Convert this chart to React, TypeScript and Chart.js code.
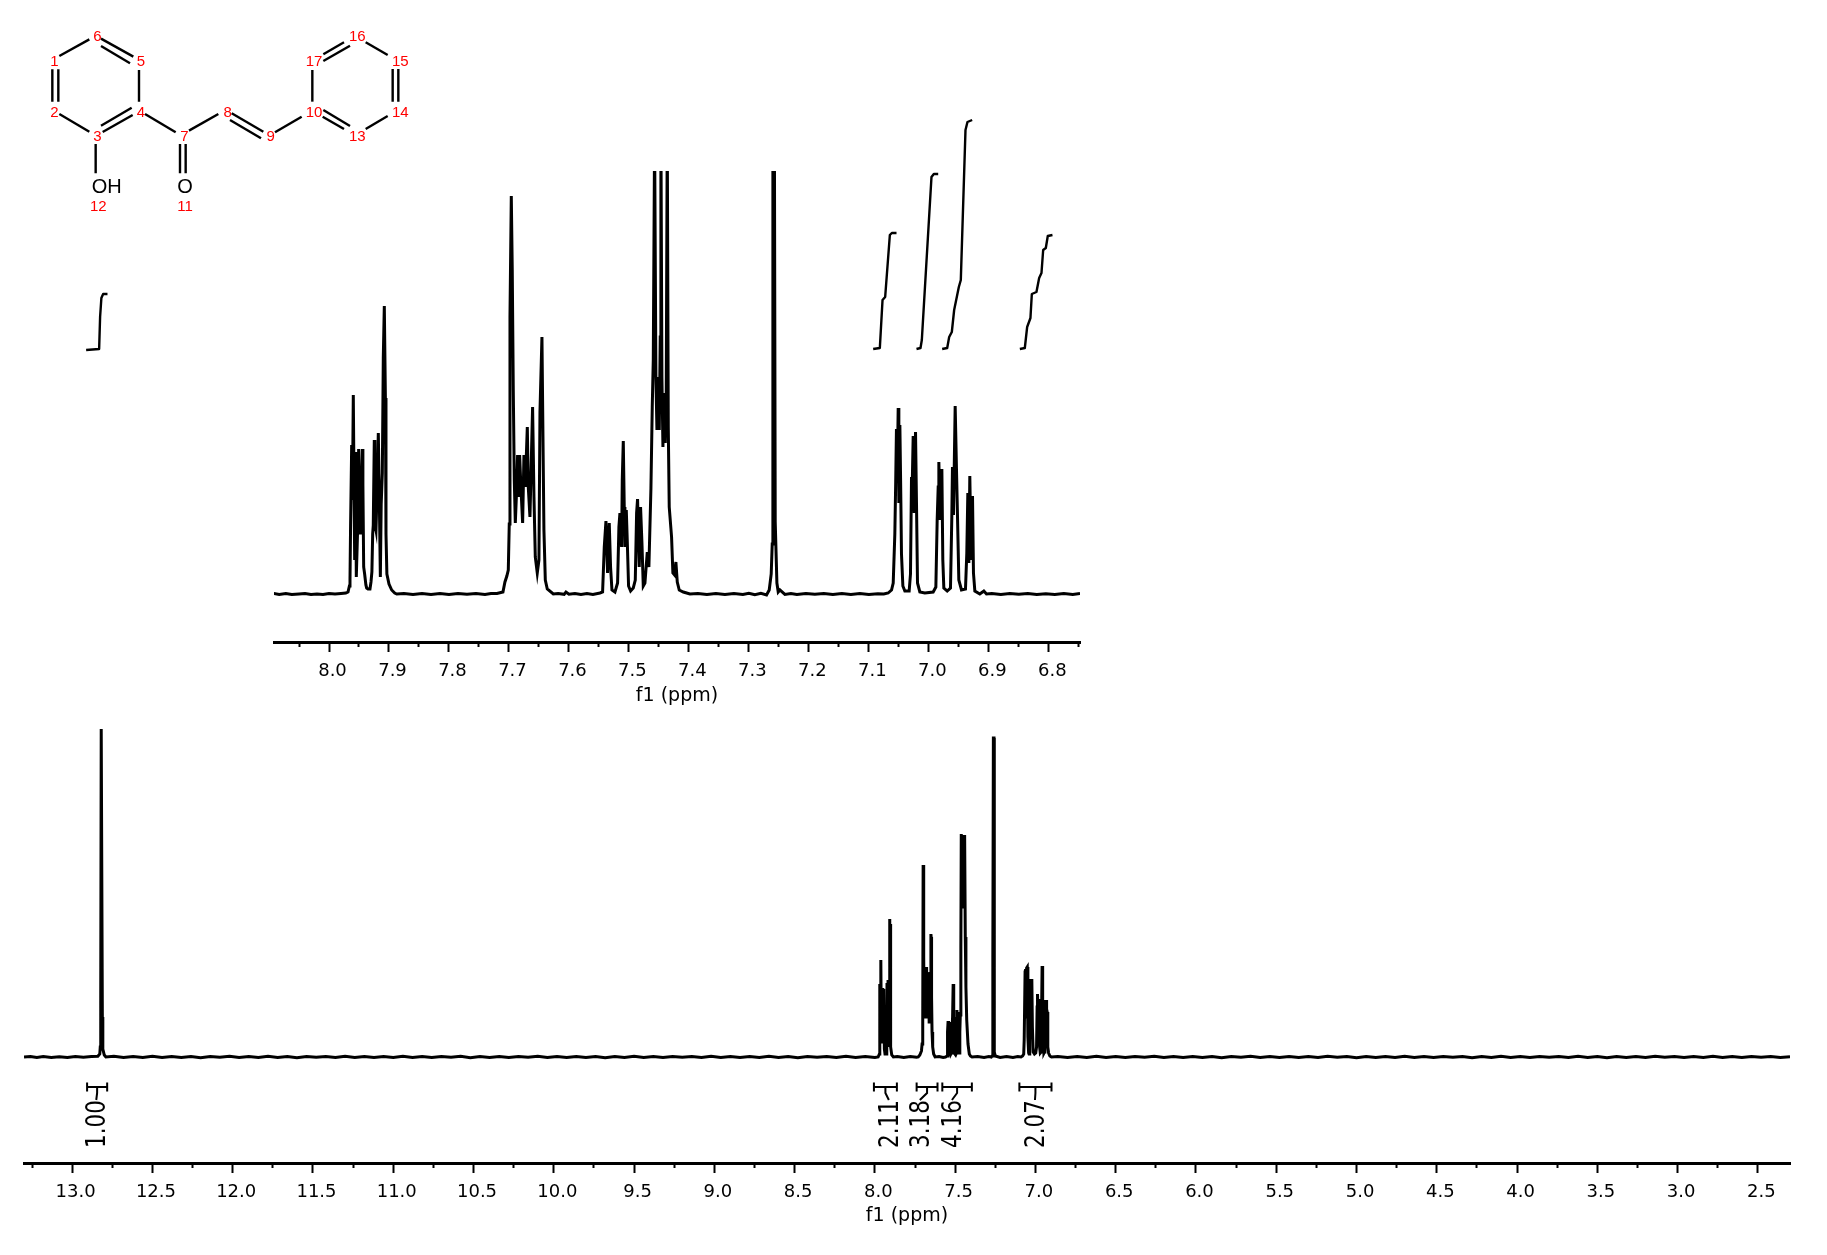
import React, { useEffect, useRef } from "react";
import { Chart, registerables } from "chart.js";

Chart.register(...registerables);

type P = [number, number];
const AXIS_FONT = "'DejaVu Sans', sans-serif";

// ---------- full spectrum: ppm / relative intensity ----------
const mainTicks = [13, 12.5, 12, 11.5, 11, 10.5, 10, 9.5, 9, 8.5, 8, 7.5, 7, 6.5, 6, 5.5, 5, 4.5, 4, 3.5, 3, 2.5];
const mainMinorTicks = [13.25, 12.75, 12.25, 11.75, 11.25, 10.75, 10.25, 9.75, 9.25, 8.75, 8.25, 7.75, 7.25, 6.75, 6.25, 5.75, 5.25, 4.75, 4.25, 3.75, 3.25, 2.75];

const mainBaselineLeft: P[] = [[13.3, 0], [13.26, 0.6], [13.22, -0.4], [13.18, 0.5], [13.13, -0.5], [13.08, 0.3], [13.03, -0.6], [12.98, 0.5], [12.93, -0.3], [12.88, 0.4]];
const mainOH: P[] = [[12.84, 0.8], [12.828, 3], [12.825, 10], [12.822, 60], [12.819, 328], [12.815, 328], [12.812, 40], [12.809, 8], [12.8, 2], [12.79, 0]];
const mainBaselineMid: P[] = [[12.74, 0.7], [12.68, -0.6], [12.62, 0.5], [12.56, -0.5], [12.5, 0.8], [12.44, -0.4], [12.38, 0.6], [12.32, -0.6], [12.26, 0.4], [12.2, -0.7], [12.14, 0.6], [12.08, -0.3], [12.02, 0.7], [11.96, -0.6], [11.9, 0.4], [11.84, -0.5], [11.78, 0.7], [11.72, -0.4], [11.66, 0.5], [11.6, -0.7], [11.54, 0.6], [11.48, -0.3], [11.42, 0.5], [11.36, -0.6], [11.3, 0.7], [11.24, -0.4], [11.18, 0.6], [11.12, -0.6], [11.06, 0.4], [11, -0.5], [10.94, 0.7], [10.88, -0.5], [10.82, 0.4], [10.76, -0.6], [10.7, 0.6], [10.64, -0.3], [10.58, 0.7], [10.52, -0.7], [10.46, 0.4], [10.4, -0.4], [10.34, 0.6], [10.28, -0.6], [10.22, 0.5], [10.16, -0.3], [10.1, 0.7], [10.04, -0.6], [9.98, 0.4], [9.92, -0.5], [9.86, 0.6], [9.8, -0.4], [9.74, 0.5], [9.68, -0.7], [9.62, 0.6], [9.56, -0.4], [9.5, 0.7], [9.44, -0.5], [9.38, 0.4], [9.32, -0.6], [9.26, 0.6], [9.2, -0.3], [9.14, 0.5], [9.08, -0.6], [9.02, 0.7], [8.96, -0.4], [8.9, 0.5], [8.84, -0.6], [8.78, 0.4], [8.72, -0.5], [8.66, 0.7], [8.6, -0.4], [8.54, 0.5], [8.48, -0.7], [8.42, 0.6], [8.36, -0.3], [8.3, 0.5], [8.24, -0.6], [8.18, 0.7], [8.12, -0.4], [8.06, 0.4], [8, -0.5]];
const mainGroupA: P[] = [[7.98, 0], [7.972, 3], [7.9695, 73], [7.966, 30], [7.963, 97], [7.96, 25], [7.9575, 69], [7.955, 15], [7.951, 69], [7.9485, 22], [7.945, 68], [7.941, 8], [7.937, 3], [7.93, 3], [7.926, 20], [7.9245, 74], [7.9215, 25], [7.918, 77], [7.915, 10], [7.911, 60], [7.9085, 138], [7.9065, 70], [7.9055, 133], [7.902, 10], [7.895, 2], [7.885, 0]];
const mainBaselineB: P[] = [[7.86, 0.5], [7.82, -0.4], [7.78, 0.5], [7.74, -0.3]];
const mainGroupB: P[] = [[7.73, 0], [7.72, 2], [7.71, 6], [7.706, 13], [7.702, 33], [7.6995, 192], [7.696, 100], [7.693, 40], [7.69, 82], [7.687, 40], [7.684, 85], [7.681, 40], [7.678, 90], [7.675, 42], [7.672, 84], [7.668, 45], [7.664, 70], [7.662, 35], [7.66, 85], [7.657, 35], [7.654, 60], [7.651, 123], [7.6495, 120], [7.647, 60], [7.644, 25], [7.64, 10], [7.634, 3], [7.625, 0]];
const mainGroupC: P[] = [[7.6, 0.5], [7.575, -0.4], [7.56, 0], [7.55, 1], [7.5475, 25], [7.544, 36], [7.541, 5], [7.538, 35], [7.5345, 4], [7.53, 2], [7.524, 4], [7.52, 25], [7.516, 40], [7.5125, 73], [7.509, 22], [7.505, 40], [7.5015, 3], [7.497, 2], [7.492, 4], [7.489, 47], [7.486, 20], [7.482, 45], [7.478, 5], [7.4745, 4], [7.471, 25], [7.468, 42], [7.4645, 110], [7.462, 223], [7.456, 150], [7.452, 222], [7.447, 150], [7.441, 222], [7.437, 120], [7.433, 70], [7.428, 37], [7.42, 13], [7.412, 3], [7.405, 1], [7.395, 0]];
const mainSolvent: P[] = [[7.36, 0.5], [7.32, -0.4], [7.29, 0.5], [7.275, 0], [7.27, 1], [7.266, 4], [7.2655, 97], [7.2645, 100], [7.262, 319], [7.258, 319], [7.257, 100], [7.2555, 5], [7.25, 1], [7.22, -0.5], [7.18, 0.5], [7.14, -0.4], [7.11, 0.4]];
const mainGroupD: P[] = [[7.09, 0], [7.08, 1], [7.073, 3], [7.07, 17], [7.0645, 85], [7.0615, 88], [7.0585, 40], [7.055, 89], [7.051, 90], [7.047, 20], [7.0425, 4], [7.04, 3], [7.037, 20], [7.034, 78], [7.0285, 40], [7.0225, 78], [7.019, 30], [7.014, 5], [7.006, 3], [6.998, 4], [6.993, 10], [6.9895, 50], [6.987, 63], [6.983, 30], [6.978, 58], [6.974, 10], [6.97, 4], [6.965, 5], [6.962, 40], [6.9585, 91], [6.955, 50], [6.951, 10], [6.947, 4], [6.944, 5], [6.941, 57], [6.9375, 25], [6.933, 57], [6.9305, 48], [6.927, 45], [6.923, 10], [6.918, 4], [6.91, 1], [6.9, 0]];
const mainBaselineRight: P[] = [[6.86, 0.6], [6.8, -0.5], [6.74, 0.4], [6.68, -0.6], [6.62, 0.7], [6.56, -0.4], [6.5, 0.5], [6.44, -0.6], [6.38, 0.6], [6.32, -0.3], [6.26, 0.7], [6.2, -0.6], [6.14, 0.4], [6.08, -0.5], [6.02, 0.6], [5.96, -0.4], [5.9, 0.5], [5.84, -0.7], [5.78, 0.6], [5.72, -0.3], [5.66, 0.7], [5.6, -0.5], [5.54, 0.4], [5.48, -0.6], [5.42, 0.6], [5.36, -0.4], [5.3, 0.5], [5.24, -0.6], [5.18, 0.7], [5.12, -0.3], [5.06, 0.5], [5, -0.7], [4.94, 0.6], [4.88, -0.4], [4.82, 0.4], [4.76, -0.5], [4.7, 0.7], [4.64, -0.4], [4.58, 0.6], [4.52, -0.6], [4.46, 0.4], [4.4, -0.3], [4.34, 0.5], [4.28, -0.7], [4.22, 0.6], [4.16, -0.4], [4.1, 0.7], [4.04, -0.5], [3.98, 0.4], [3.92, -0.6], [3.86, 0.6], [3.8, -0.3], [3.74, 0.5], [3.68, -0.6], [3.62, 0.7], [3.56, -0.4], [3.5, 0.5], [3.44, -0.7], [3.38, 0.6], [3.32, -0.4], [3.26, 0.4], [3.2, -0.5], [3.14, 0.7], [3.08, -0.3], [3.02, 0.5], [2.96, -0.6], [2.9, 0.6], [2.84, -0.4], [2.78, 0.7], [2.72, -0.5], [2.66, 0.4], [2.6, -0.6], [2.54, 0.6], [2.48, -0.3], [2.42, 0.5], [2.36, -0.5], [2.3, 0.3]];
const mainIntegralOH: P[] = [[12.913, 707], [12.832, 708], [12.826, 740], [12.818, 759], [12.807, 763], [12.78, 763]];

const regionLabels = ["1.00", "2.11", "3.18", "4.16", "2.07"];
const regionFrom = [12.907, 8.006, 7.74, 7.58, 7.1];
const regionTo = [12.782, 7.863, 7.61, 7.396, 6.9];
const regionLabelPpm = [12.85, 7.913, 7.72, 7.52, 7.003];

// ---------- expanded aromatic region ----------
const insetTicks = [8, 7.9, 7.8, 7.7, 7.6, 7.5, 7.4, 7.3, 7.2, 7.1, 7, 6.9, 6.8];
const insetMinorTicks = [8.05, 7.95, 7.85, 7.75, 7.65, 7.55, 7.45, 7.35, 7.25, 7.15, 7.05, 6.95, 6.85, 6.75];

const insetBaseA: P[] = [[8.092, 0.5], [8.083, -0.5], [8.072, 0.5], [8.062, -0.6], [8.05, 0], [8.04, 0.6], [8.03, -0.5], [8.02, 0], [8.01, -0.6], [8, 0.5], [7.99, 0], [7.98, 0.5], [7.972, 1]];
const insetGroupA: P[] = [[7.9683, 2], [7.966, 8], [7.965, 14], [7.964, 70], [7.9622, 149], [7.961, 94], [7.9595, 199], [7.958, 90], [7.9572, 34], [7.9556, 142], [7.9545, 17], [7.9525, 60], [7.9506, 145], [7.9495, 65], [7.9483, 61], [7.9467, 100], [7.9445, 145], [7.9435, 110], [7.9422, 27], [7.9406, 20], [7.9385, 9], [7.9372, 6], [7.935, 5], [7.9317, 5], [7.93, 12], [7.9285, 22], [7.9272, 60], [7.9262, 69], [7.9245, 154], [7.9235, 70], [7.9217, 64], [7.9195, 110], [7.9178, 161], [7.916, 90], [7.9144, 17], [7.913, 90], [7.9111, 121], [7.9095, 236], [7.9078, 288], [7.906, 196], [7.905, 60], [7.9035, 20], [7.9, 10], [7.8955, 4], [7.8905, 1], [7.887, 0]];
const insetBaseB: P[] = [[7.875, 0.5], [7.86, -0.4], [7.845, 0.5], [7.83, -0.6], [7.815, 0.4], [7.8, -0.5], [7.785, 0.6], [7.77, -0.3], [7.755, 0.4], [7.74, -0.5], [7.73, 0.5]];
const insetGroupB: P[] = [[7.72, 0.5], [7.71, 2], [7.7067, 12], [7.7035, 18], [7.7011, 24], [7.6995, 70], [7.6983, 277], [7.6961, 398], [7.6945, 324], [7.6928, 204], [7.6911, 114], [7.6894, 71], [7.6872, 104], [7.6856, 139], [7.684, 97], [7.6822, 139], [7.68, 106], [7.6772, 71], [7.675, 139], [7.6728, 107], [7.6694, 167], [7.6678, 107], [7.665, 77], [7.6606, 187], [7.6583, 97], [7.6561, 37], [7.6528, 21], [7.65, 34], [7.6483, 182], [7.645, 257], [7.6433, 157], [7.6417, 64], [7.6394, 14], [7.6361, 5], [7.6261, 0]];
const insetBaseC: P[] = [[7.618, 0.5], [7.608, -0.3], [7.605, 2], [7.6, -0.3], [7.59, 0.5], [7.58, -0.5], [7.57, 0.4], [7.56, -0.4]];
const insetGroupC: P[] = [[7.5483, 1], [7.5439, 2], [7.5411, 47], [7.5383, 73], [7.5356, 21], [7.5328, 71], [7.5306, 27], [7.5283, 4], [7.5233, 2], [7.5189, 11], [7.5167, 67], [7.515, 81], [7.5122, 47], [7.5111, 114], [7.5094, 153], [7.5078, 87], [7.5067, 47], [7.5044, 84], [7.5028, 54], [7.5006, 8], [7.4972, 3], [7.4928, 6], [7.4894, 14], [7.4872, 81], [7.4856, 95], [7.4828, 27], [7.4806, 87], [7.4783, 51], [7.4761, 8], [7.4733, 11], [7.4694, 42], [7.4667, 27], [7.4633, 106], [7.4611, 187], [7.4594, 234], [7.4572, 460], [7.455, 217], [7.4533, 164], [7.4511, 217], [7.4494, 164], [7.4478, 257], [7.4467, 470], [7.445, 217], [7.4433, 147], [7.4417, 201], [7.4394, 151], [7.4378, 201], [7.4361, 465], [7.4344, 167], [7.4328, 87], [7.4289, 57], [7.4267, 21], [7.4239, 19], [7.4217, 32], [7.4194, 12], [7.4161, 4], [7.4094, 2], [7.3983, 0]];
const insetBaseD: P[] = [[7.385, 0.5], [7.37, -0.6], [7.355, 0.4], [7.34, -0.4], [7.325, 0.5], [7.31, -0.5], [7.3, 0.8], [7.29, -0.6], [7.28, 0.6], [7.2706, -1]];
const insetSolvent: P[] = [[7.2661, 4], [7.2628, 20], [7.2611, 50], [7.26, 470], [7.2575, 470], [7.2561, 72], [7.255, 72], [7.2533, 11], [7.2511, 2], [7.2483, 4]];
const insetBaseE: P[] = [[7.24, -0.4], [7.23, 0.6], [7.22, -0.5], [7.205, 0.5], [7.19, -0.3], [7.175, 0.5], [7.16, -0.5], [7.145, 0.4], [7.13, -0.4], [7.115, 0.5], [7.1, -0.5], [7.085, 0.3], [7.075, 0]];
const insetGroupD: P[] = [[7.0678, 1], [7.0622, 4], [7.0594, 11], [7.0567, 60], [7.0553, 110], [7.054, 165], [7.0525, 125], [7.0511, 186], [7.05, 91], [7.0483, 169], [7.047, 110], [7.0456, 40], [7.0433, 8], [7.04, 3], [7.035, 3], [7.0328, 3], [7.0306, 20], [7.0289, 117], [7.0278, 105], [7.0261, 158], [7.0244, 81], [7.0222, 162], [7.0206, 91], [7.0189, 11], [7.015, 2], [7.0067, 1], [6.9928, 2], [6.9883, 7], [6.9861, 74], [6.9844, 107], [6.9833, 132], [6.9811, 74], [6.9783, 125], [6.9767, 34], [6.975, 6], [6.9694, 3], [6.9639, 6], [6.9617, 77], [6.9606, 127], [6.9589, 79], [6.9561, 188], [6.9539, 124], [6.9522, 77], [6.95, 14], [6.9456, 4], [6.9389, 5], [6.9367, 41], [6.935, 101], [6.9333, 31], [6.9317, 118], [6.9294, 34], [6.9272, 98], [6.9256, 21], [6.9233, 3], [6.915, 0], [6.9083, 3], [6.9039, 0]];
const insetBaseF: P[] = [[6.895, 0.5], [6.88, -0.5], [6.865, 0.4], [6.85, -0.3], [6.835, 0.5], [6.82, -0.6], [6.805, 0.3], [6.79, -0.4], [6.775, 0.5], [6.76, -0.5], [6.748, 0.4]];

const integralA: P[] = [[7.0928, 245], [7.0817, 246], [7.0772, 294], [7.0728, 297], [7.065, 359], [7.0617, 361], [7.0539, 361]];
const integralB: P[] = [[7.0206, 245], [7.0139, 246], [7.0117, 254], [6.9956, 417], [6.9917, 420], [6.9844, 420]];
const integralC: P[] = [[6.9778, 245], [6.9694, 246], [6.9661, 257], [6.9617, 262], [6.9578, 284], [6.95, 307], [6.9467, 314], [6.9389, 464], [6.9356, 472], [6.9278, 474]];
const integralD: P[] = [[6.8483, 245], [6.84, 246], [6.8361, 267], [6.8306, 276], [6.8283, 300], [6.8206, 302], [6.8161, 316], [6.8122, 321], [6.8094, 344], [6.805, 346], [6.8017, 358], [6.7939, 359]];

// ---------- structure drawing ----------
const bonds: [number, number, number, number][] = [
  [178, 168, 268, 118], [303, 116, 400, 170], [303, 138, 390, 190], [417, 210, 417, 305],
  [395, 323, 303, 377], [398, 345, 308, 396], [178, 342, 268, 395], [157, 208, 157, 305], [175, 208, 175, 305],
  [287, 432, 287, 520], [435, 342, 527, 397], [540, 432, 540, 520], [557, 432, 557, 520], [567, 392, 655, 342],
  [695, 340, 790, 395], [690, 360, 783, 415], [825, 397, 905, 350], [937, 305, 937, 210], [970, 163, 1032, 127],
  [970, 183, 1050, 137], [1097, 127, 1163, 165], [1178, 207, 1178, 305], [1195, 207, 1195, 305],
  [1163, 348, 1097, 387], [1050, 378, 970, 330], [1032, 387, 968, 350],
];
const atomNumbers = ["1", "2", "3", "4", "5", "6", "7", "8", "9", "10", "11", "12", "13", "14", "15", "16", "17"];
const atomX = [163, 163, 292, 423, 423, 292, 553, 683, 812, 942, 555, 295, 1072, 1201, 1201, 1072, 942];
const atomY = [187, 338, 411, 338, 187, 111, 411, 338, 411, 338, 620, 620, 411, 338, 187, 111, 187];
const heteroLabels = ["OH", "O"];
const heteroX = [320, 555];
const heteroY = [563, 563];

const toPts = (list: P[]) => list.map(([x, y]) => ({ x, y }));

const axis = (
  min: number,
  max: number,
  labels: number[],
  height: number,
  titlePad: number,
) => ({
  type: "linear",
  reverse: true,
  min,
  max,
  position: "bottom",
  afterBuildTicks: (s: any) => {
    s.ticks = labels.map((value) => ({ value }));
  },
  afterFit: (s: any) => {
    s.height = height;
  },
  ticks: {
    autoSkip: false,
    maxRotation: 0,
    minRotation: 0,
    padding: 9,
    labelOffset: 3.5,
    color: "#000",
    font: { family: AXIS_FONT, size: 18 },
    callback: (v: any) => Number(v).toFixed(1),
  },
  grid: { drawOnChartArea: false, drawTicks: true, tickLength: 10, tickWidth: 2, tickColor: "#000" },
  border: { display: true, color: "#000", width: 3 },
  title: {
    display: true,
    text: "f1 (ppm)",
    color: "#000",
    font: { family: AXIS_FONT, size: 19 },
    padding: { top: 0, bottom: titlePad },
  },
});

const minorAxis = (min: number, max: number, ticks: number[], yValue: number) => ({
  type: "linear",
  axis: "x",
  reverse: true,
  min,
  max,
  position: { y: yValue },
  afterBuildTicks: (s: any) => {
    s.ticks = ticks.map((value) => ({ value }));
  },
  ticks: { display: false, autoSkip: false },
  grid: { drawOnChartArea: false, drawTicks: true, tickLength: 5, tickWidth: 2, tickColor: "#000" },
  border: { display: false },
});

const spectrumSet = (data: P[], width = 3) => ({
  data: toPts(data),
  showLine: true,
  borderColor: "#000",
  backgroundColor: "#000",
  borderWidth: width,
  pointRadius: 0,
  tension: 0,
  borderJoinStyle: "miter",
});

const integralSet = (data: P[]) => ({ ...spectrumSet(data, 2.4), clip: false, borderJoinStyle: "round" });

const regionPlugin = {
  id: "regions",
  afterDatasetsDraw(chart: any) {
    const { ctx, scales } = chart;
    const sx = scales.x;
    const sy = scales.y;
    const barY = sy.getPixelForValue(-30);
    ctx.save();
    ctx.strokeStyle = "#000";
    ctx.fillStyle = "#000";
    ctx.lineWidth = 2;
    regionLabels.forEach((label, i) => {
      const a = sx.getPixelForValue(regionFrom[i]);
      const b = sx.getPixelForValue(regionTo[i]);
      const c = (a + b) / 2;
      const l = sx.getPixelForValue(regionLabelPpm[i]);
      ctx.beginPath();
      ctx.moveTo(a, barY - 4.5);
      ctx.lineTo(a, barY + 4.5);
      ctx.moveTo(b, barY - 4.5);
      ctx.lineTo(b, barY + 4.5);
      ctx.moveTo(a, barY);
      ctx.lineTo(b, barY);
      ctx.moveTo(c, barY);
      ctx.lineTo(c, barY + 6);
      ctx.lineTo(l, barY + 13);
      ctx.stroke();
      ctx.save();
      ctx.translate(l, sy.getPixelForValue(-67));
      ctx.rotate(-Math.PI / 2);
      ctx.scale(1, 1.25);
      ctx.font = `21.5px ${AXIS_FONT}`;
      ctx.textAlign = "center";
      ctx.textBaseline = "middle";
      ctx.fillText(label, 0, 1.5);
      ctx.restore();
    });
    ctx.restore();
  },
};

const atomLabelPlugin = {
  id: "atomLabels",
  afterDatasetsDraw(chart: any) {
    const { ctx, scales } = chart;
    ctx.save();
    ctx.textAlign = "center";
    ctx.textBaseline = "middle";
    ctx.font = "15px 'Liberation Sans', sans-serif";
    ctx.fillStyle = "#ff0000";
    atomNumbers.forEach((n, i) => {
      ctx.fillText(n, scales.x.getPixelForValue(atomX[i]), scales.y.getPixelForValue(atomY[i]));
    });
    ctx.font = "20px 'Liberation Sans', sans-serif";
    ctx.fillStyle = "#000";
    heteroLabels.forEach((n, i) => {
      ctx.fillText(n, scales.x.getPixelForValue(heteroX[i]), scales.y.getPixelForValue(heteroY[i]));
    });
    ctx.restore();
  },
};

const quiet = { legend: { display: false }, title: { display: false }, tooltip: { enabled: false } };

const hiddenY = (min: number, max: number) => ({ type: "linear", display: false, min, max });

export default function App() {
  const mainRef = useRef<HTMLCanvasElement>(null);
  const insetRef = useRef<HTMLCanvasElement>(null);
  const molRef = useRef<HTMLCanvasElement>(null);

  useEffect(() => {
    document.body.style.margin = "0";
    const main = new Chart(mainRef.current as any, {
      type: "scatter",
      data: {
        datasets: [
          spectrumSet([
            ...mainBaselineLeft, ...mainOH, ...mainBaselineMid, ...mainGroupA, ...mainBaselineB, ...mainGroupB,
            ...mainGroupC, ...mainSolvent, ...mainGroupD, ...mainBaselineRight,
          ]),
          integralSet(mainIntegralOH),
        ],
      } as any,
      options: {
        animation: false,
        responsive: false,
        maintainAspectRatio: false,
        layout: { padding: { left: 24, right: 37, top: 0, bottom: 0 } },
        plugins: quiet,
        scales: {
          x: axis(2.3, 13.3, mainTicks, 92, 27.5),
          xMinor: minorAxis(2.3, 13.3, mainMinorTicks, -106),
          y: hiddenY(-106, 1057),
        },
      } as any,
      plugins: [regionPlugin],
    });
    const inset = new Chart(insetRef.current as any, {
      type: "scatter",
      data: {
        datasets: [
          spectrumSet([
            ...insetBaseA, ...insetGroupA, ...insetBaseB, ...insetGroupB, ...insetBaseC, ...insetGroupC,
            ...insetBaseD, ...insetSolvent, ...insetBaseE, ...insetGroupD, ...insetBaseF,
          ]),
          integralSet(integralA),
          integralSet(integralB),
          integralSet(integralC),
          integralSet(integralD),
        ],
      } as any,
      options: {
        animation: false,
        responsive: false,
        maintainAspectRatio: false,
        layout: { padding: { left: 274, right: 747, top: 171, bottom: 0 } },
        plugins: quiet,
        scales: {
          x: axis(6.748, 8.0917, insetTicks, 78, 13),
          xMinor: minorAxis(6.748, 8.0917, insetMinorTicks, -48),
          y: hiddenY(-48, 423),
        },
      } as any,
    });
    const mol = new Chart(molRef.current as any, {
      type: "scatter",
      data: {
        datasets: bonds.map(([x1, y1, x2, y2]) => ({
          data: [{ x: x1, y: y1 }, { x: x2, y: y2 }],
          showLine: true,
          borderColor: "#000",
          borderWidth: 2.4,
          pointRadius: 0,
          clip: false,
        })),
      } as any,
      options: {
        animation: false,
        responsive: false,
        maintainAspectRatio: false,
        plugins: quiet,
        scales: {
          x: { type: "linear", display: false, min: 0, max: 1380 },
          y: { type: "linear", display: false, min: 0, max: 1110, reverse: true },
        },
      } as any,
      plugins: [atomLabelPlugin],
    });
    return () => {
      main.destroy();
      inset.destroy();
      mol.destroy();
    };
  }, []);

  const abs: React.CSSProperties = { position: "absolute", left: 0, top: 0, display: "block" };
  return (
    <div style={{ position: "absolute", left: 0, top: 0, width: 1827, height: 1255, background: "#fff", overflow: "hidden" }}>
      <canvas ref={mainRef} width={1827} height={1255} style={abs} />
      <canvas ref={insetRef} width={1827} height={720} style={abs} />
      <canvas ref={molRef} width={460} height={370} style={abs} />
    </div>
  );
}
